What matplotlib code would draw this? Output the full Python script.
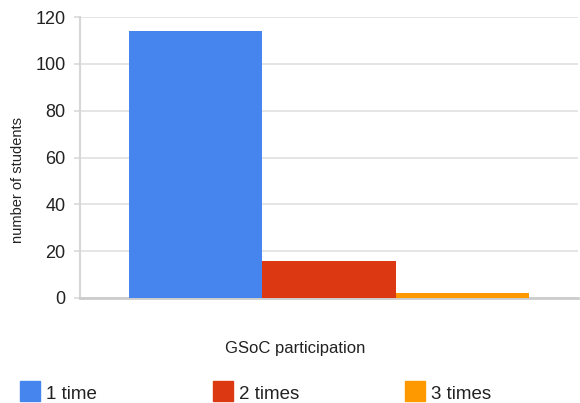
import matplotlib
matplotlib.use("Agg")
import matplotlib.pyplot as plt
from matplotlib.patches import Rectangle

# participation counts
series = ["1 time", "2 times", "3 times"]
students = [114, 16, 2]
colors = ["#4684EE", "#DC3912", "#FF9900"]
yticks = [0, 20, 40, 60, 80, 100, 120]

plt.rcParams['font.family'] = ['Liberation Sans', 'DejaVu Sans']

fig = plt.figure(figsize=(5.8, 4.03), dpi=100)
ax = fig.add_axes([80 / 580, 1 - 298 / 403, 498 / 580, 281 / 403])

# three bars side by side in one group
pos = [-1, 0, 1]
bars = ax.bar(pos, students, width=1.0, color=colors, edgecolor="none", zorder=3)

ax.set_xlim(-1.8675, 1.8675)
ax.set_ylim(0, 120)
ax.set_yticks(yticks)
ax.set_xticks([])
ax.tick_params(axis='y', length=4.5, width=1.2, color="#d9d9d9", labelsize=13,
               labelcolor="#222222", pad=6)
ax.grid(axis='y', color="#e3e3e3", lw=1.3, zorder=0)
for s in ["top", "right"]:
    ax.spines[s].set_visible(False)
ax.spines["left"].set_color("#d6d6d6")
ax.spines["left"].set_linewidth(1.5)
ax.spines["bottom"].set_color("#cccccc")
ax.spines["bottom"].set_linewidth(2)

fig.text(18 / 580, 1 - 180 / 403, "number of students", rotation=90,
         ha="center", va="center", fontsize=10.5, color="#222222")
fig.text(295 / 580, 1 - 348 / 403, "GSoC participation",
         ha="center", va="center", fontsize=12, color="#222222")

# legend along the bottom
lx = [20, 213, 405]
for x, name, c in zip(lx, series, colors):
    fig.patches.append(Rectangle((x / 580, 1 - 401 / 403), 20 / 580, 20 / 403,
                                 transform=fig.transFigure, color=c))
    fig.text((x + 26) / 580, 1 - 399 / 403, name, ha="left", va="baseline",
             fontsize=13.5, color="#222222")

fig.savefig("out.png", dpi=100)
